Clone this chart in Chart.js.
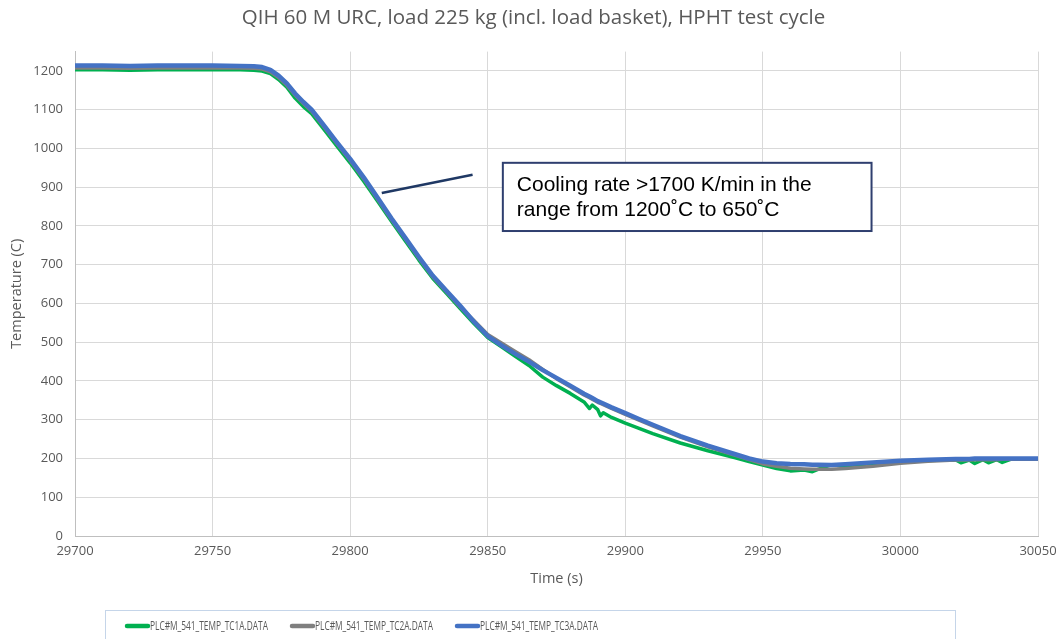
<!DOCTYPE html>
<html lang="en">
<head>
<meta charset="UTF-8">
<title>HPHT test cycle</title>
<script src="https://cdn.jsdelivr.net/npm/chart.js"></script>
<style>
  body { margin: 0; background: #fff; }
  #wrap { width: 1059px; height: 639px; }
</style>
</head>
<body>
<div id="wrap"><canvas id="tempChart" width="1059" height="639"></canvas></div>
<script>
// time stamps (s), shared by all three thermocouples
const times = [29700, 29710, 29720, 29730, 29740, 29750, 29760, 29765, 29768, 29771,
  29774, 29777, 29780, 29783, 29786, 29790, 29795, 29800, 29805, 29810,
  29815, 29820, 29825, 29830, 29835, 29840, 29845, 29850, 29855, 29860,
  29865, 29870, 29875, 29880, 29885, 29887, 29888, 29890, 29891, 29892,
  29895, 29900, 29905, 29910, 29920, 29930, 29940, 29945, 29950, 29955,
  29960, 29965, 29968, 29970, 29975, 29980, 29990, 30000, 30010, 30020,
  30022, 30025, 30027, 30030, 30032, 30035, 30037, 30040, 30050];

const tc1a = [1203, 1203, 1202, 1203, 1203, 1203, 1203, 1202, 1200, 1193,
  1178, 1158, 1130, 1108, 1090, 1054, 1008, 963, 915, 864,
  812, 762, 712, 665, 626, 587, 548, 512, 488, 464,
  440, 410, 388, 368, 346, 329, 338, 326, 310, 318,
  306, 291, 278, 264, 240, 220, 202, 192, 183, 174,
  168, 170, 166, 172, 184, 180, 185, 190, 195, 197,
  189, 196, 187, 197, 189, 197, 190, 198, 198];

const tc2a = [1208, 1208, 1207, 1208, 1208, 1208, 1208, 1207, 1205, 1198,
  1183, 1163, 1138, 1116, 1096, 1060, 1014, 969, 921, 869,
  817, 767, 717, 669, 630, 591, 556, 520, 498, 476,
  455, 430, 406, 385, 364, 357, 353, 345, 342, 339,
  329, 314, 299, 284, 255, 230, 208, 197, 186, 180,
  175, 173, 172, 172, 172, 174, 180, 188, 193, 196,
  196, 196, 197, 197, 197, 197, 198, 198, 198];

const tc3a = [1214, 1214, 1213, 1214, 1214, 1214, 1213, 1212, 1210, 1203,
  1188, 1168, 1142, 1120, 1100, 1064, 1018, 973, 925, 873,
  820, 770, 720, 672, 633, 594, 553, 516, 492, 470,
  450, 428, 408, 388, 367, 360, 356, 348, 345, 342,
  332, 317, 302, 287, 258, 233, 211, 200, 192, 188,
  186, 185, 184, 184, 183, 185, 190, 194, 197, 199,
  199, 199, 200, 200, 200, 200, 200, 200, 200];

const seriesNames = ['PLC#M_541_TEMP_TC1A.DATA', 'PLC#M_541_TEMP_TC2A.DATA', 'PLC#M_541_TEMP_TC3A.DATA'];
const noteLines = ['Cooling rate >1700 K/min in the', 'range from 1200\u02DAC to 650\u02DAC'];

function toPoints(vals) {
  return times.map((t, i) => ({ x: t, y: vals[i] }));
}

Chart.defaults.font.family = '"Open Sans", sans-serif';
Chart.defaults.color = '#595959';

// callout box + pointer line, anchored in data units
const calloutPlugin = {
  id: 'callout',
  afterDatasetsDraw(chart) {
    const { ctx, scales: { x, y } } = chart;
    ctx.save();
    ctx.strokeStyle = '#1f3864';
    ctx.lineWidth = 2.5;
    ctx.beginPath();
    ctx.moveTo(x.getPixelForValue(29811.5), y.getPixelForValue(885));
    ctx.lineTo(x.getPixelForValue(29844.5), y.getPixelForValue(932));
    ctx.stroke();

    const left = x.getPixelForValue(29855.5), right = x.getPixelForValue(29989.5);
    const top = y.getPixelForValue(963), bottom = y.getPixelForValue(787);
    ctx.fillStyle = '#fff';
    ctx.fillRect(left, top, right - left, bottom - top);
    ctx.strokeStyle = '#2f3f6f';
    ctx.lineWidth = 2;
    ctx.strokeRect(left, top, right - left, bottom - top);

    ctx.fillStyle = '#000';
    ctx.font = '21px "Liberation Sans", Arial, sans-serif';
    ctx.textBaseline = 'alphabetic';
    ctx.fillText(noteLines[0], left + 14, top + 28);
    ctx.fillText(noteLines[1], left + 14, top + 53);
    ctx.restore();
  }
};

// Excel style boxed legend under the axis title
const boxLegendPlugin = {
  id: 'boxLegend',
  afterDraw(chart) {
    const ctx = chart.ctx;
    ctx.save();
    ctx.strokeStyle = '#c5d5e9';
    ctx.lineWidth = 1;
    ctx.strokeRect(105.5, 610.5, 850, 40);
    ctx.font = '13px "Open Sans", sans-serif';
    ctx.textBaseline = 'middle';
    chart.data.datasets.forEach((ds, i) => {
      const x0 = 127 + i * 165, yMid = 626;
      ctx.strokeStyle = ds.borderColor;
      ctx.lineWidth = 4.5;
      ctx.lineCap = 'round';
      ctx.beginPath();
      ctx.moveTo(x0, yMid);
      ctx.lineTo(x0 + 21, yMid);
      ctx.stroke();
      ctx.fillStyle = '#595959';
      ctx.fillText(ds.label, x0 + 23, yMid, 118);
    });
    ctx.restore();
  }
};

new Chart(document.getElementById('tempChart'), {
  type: 'line',
  data: {
    datasets: [
      { label: seriesNames[0], data: toPoints(tc1a), borderColor: '#00b050', borderWidth: 3.5, order: 2 },
      { label: seriesNames[1], data: toPoints(tc2a), borderColor: '#7f7f7f', borderWidth: 3.5, order: 1 },
      { label: seriesNames[2], data: toPoints(tc3a), borderColor: '#4472c4', borderWidth: 4.5, order: 0 }
    ]
  },
  options: {
    responsive: false,
    animation: false,
    elements: {
      point: { radius: 0 },
      line: { tension: 0, borderJoinStyle: 'round', borderCapStyle: 'round' }
    },
    layout: { padding: { left: 8, right: 0, top: 0, bottom: 50 } },
    plugins: {
      legend: { display: false },
      tooltip: { enabled: false },
      title: {
        display: true,
        text: 'QIH 60 M URC, load 225 kg (incl. load basket), HPHT test cycle',
        color: '#595959',
        font: { size: 20.5, weight: 'normal' },
        padding: { top: 6, bottom: 21 }
      }
    },
    scales: {
      x: {
        type: 'linear',
        min: 29700,
        max: 30050,
        ticks: { stepSize: 50, padding: 7, maxRotation: 0, font: { size: 13 }, callback: v => String(v) },
        grid: { color: '#d9d9d9', drawTicks: false },
        border: { color: '#bfbfbf' },
        title: { display: true, text: 'Time (s)', font: { size: 14.5 }, padding: { top: 0, bottom: 1 } },
        afterFit(axis) { axis.height = 53; axis.paddingRight = 21; }
      },
      y: {
        min: 0,
        max: 1250,
        afterBuildTicks(axis) { axis.ticks = axis.ticks.filter(t => t.value <= 1200); },
        ticks: { stepSize: 100, padding: 12, font: { size: 13 }, callback: v => String(v) },
        grid: { color: '#d9d9d9', drawTicks: false },
        border: { color: '#bfbfbf' },
        title: { display: true, text: 'Temperature (C)', font: { size: 14.5 }, padding: 0 },
        afterFit(axis) { axis.width = 67; }
      }
    }
  },
  plugins: [calloutPlugin, boxLegendPlugin]
});
</script>
</body>
</html>
